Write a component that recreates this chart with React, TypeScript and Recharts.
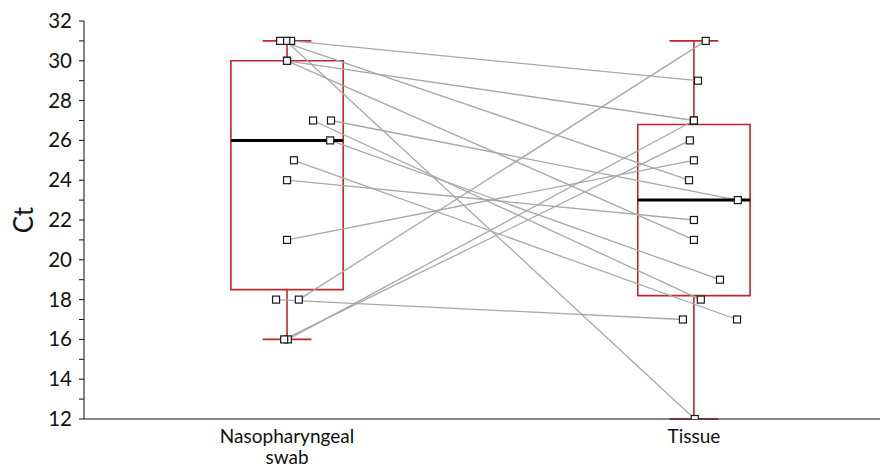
import React from "react";
import {
  ComposedChart,
  XAxis,
  YAxis,
  Line,
  Scatter,
  ReferenceArea,
  ReferenceLine,
  Label,
} from "recharts";

// ---- data ----
const categoryPositions = [1, 2];
const categoryLines = [["Nasopharyngeal", "swab"], ["Tissue"]];

// paired Ct values (one entry per sample)
const swabCt = [31, 31, 31, 30, 30, 27, 27, 26, 25, 24, 21, 18, 18, 16, 16];
const tissueCt = [29, 12, 24, 27, 21, 23, 18, 19, 17, 22, 25, 31, 17, 27, 26];
// horizontal jitter of each point (category units)
const swabJitter = [0.01, -0.002, -0.017, 0, 0, 0.108, 0.064, 0.106, 0.017, 0, 0, 0.029, -0.027, 0.002, -0.007];
const tissueJitter = [0.01, 0.002, -0.012, 0, 0, 0.108, 0.017, 0.064, 0.106, 0, 0, 0.029, -0.027, 0, -0.01];

// box plot statistics: [min, q1, median, q3, max]
const swabBox = [16, 18.5, 26, 30, 31];
const tissueBox = [12, 18.2, 23, 26.8, 31];

const yTicks = [12, 13, 14, 15, 16, 17, 18, 19, 20, 21, 22, 23, 24, 25, 26, 27, 28, 29, 30, 31, 32];

// ---- styles ----
const BOX_RED = "#C0272D";
const LINE_GREY = "#A8A8A8";
const FONT = "Lato, 'Open Sans', sans-serif";
const BOX_HALF = 0.138;
const CAP_HALF = 0.06;

const pairs = swabCt.map((v, i) => [
  { x: categoryPositions[0] + swabJitter[i], y: v },
  { x: categoryPositions[1] + tissueJitter[i], y: tissueCt[i] },
]);
const points = [
  ...swabCt.map((v, i) => ({ x: categoryPositions[0] + swabJitter[i], y: v })),
  ...tissueCt.map((v, i) => ({ x: categoryPositions[1] + tissueJitter[i], y: v })),
];
const boxes = [
  { c: categoryPositions[0], s: swabBox },
  { c: categoryPositions[1], s: tissueBox },
];

const Square = (props: any) => {
  const { cx, cy } = props;
  if (cx == null || cy == null) return null;
  return (
    <rect x={cx - 3.5} y={cy - 3.5} width={7} height={7} fill="#fff" stroke="#1a1a1a" strokeWidth={1.2} />
  );
};

const XTick = (props: any) => {
  const { x, y, payload } = props;
  const idx = categoryPositions.indexOf(payload.value);
  const lines = categoryLines[idx] || [];
  return (
    <text x={x} y={y} textAnchor="middle" fill="#111" fontSize={19} fontFamily={FONT}>
      {lines.map((l, i) => (
        <tspan key={i} x={x} dy={i === 0 ? 16 : 21}>
          {l}
        </tspan>
      ))}
    </text>
  );
};

const YTick = (props: any) => {
  const { x, y, payload } = props;
  if (payload.value % 2 !== 0) return null;
  return (
    <text x={x} y={y} dy={7} textAnchor="end" fill="#111" fontSize={20.5} fontFamily={FONT}>
      {payload.value}
    </text>
  );
};

export default function App() {
  return (
    <ComposedChart
      width={880}
      height={459}
      margin={{ top: 13, right: 0, bottom: 0, left: 0 }}
      style={{ fontFamily: FONT }}
    >
      <XAxis
        type="number"
        dataKey="x"
        domain={[0.501, 2.477]}
        allowDataOverflow
        ticks={categoryPositions}
        tick={<XTick />}
        tickLine={false}
        axisLine={{ stroke: "#111", strokeWidth: 1 }}
        height={48}
        interval={0}
      />
      <YAxis
        type="number"
        dataKey="y"
        domain={[12, 32]}
        allowDataOverflow
        ticks={yTicks}
        interval={0}
        tick={<YTick />}
        tickSize={5}
        tickMargin={7}
        tickLine={{ stroke: "#111" }}
        axisLine={{ stroke: "#111", strokeWidth: 1 }}
        width={76}
      >
        <Label
          value="Ct"
          angle={-90}
          position="insideLeft"
          offset={16}
          style={{ fontSize: 26, fill: "#111", fontFamily: FONT, textAnchor: "middle" }}
        />
      </YAxis>

      {boxes.map((b, i) => (
        <ReferenceArea
          key={"box" + i}
          x1={b.c - BOX_HALF}
          x2={b.c + BOX_HALF}
          y1={b.s[1]}
          y2={b.s[3]}
          fill="#fff"
          fillOpacity={0}
          stroke={BOX_RED}
          strokeWidth={1.6}
          ifOverflow="visible"
        />
      ))}
      {boxes.map((b, i) => (
        <ReferenceLine
          key={"wu" + i}
          segment={[{ x: b.c, y: b.s[3] }, { x: b.c, y: b.s[4] }]}
          stroke={BOX_RED}
          strokeWidth={1.6}
          ifOverflow="visible"
        />
      ))}
      {boxes.map((b, i) => (
        <ReferenceLine
          key={"wl" + i}
          segment={[{ x: b.c, y: b.s[1] }, { x: b.c, y: b.s[0] }]}
          stroke={BOX_RED}
          strokeWidth={1.6}
          ifOverflow="visible"
        />
      ))}
      {boxes.map((b, i) => (
        <ReferenceLine
          key={"cu" + i}
          segment={[{ x: b.c - CAP_HALF, y: b.s[4] }, { x: b.c + CAP_HALF, y: b.s[4] }]}
          stroke={BOX_RED}
          strokeWidth={1.6}
          ifOverflow="visible"
        />
      ))}
      {boxes.map((b, i) => (
        <ReferenceLine
          key={"cl" + i}
          segment={[{ x: b.c - CAP_HALF, y: b.s[0] }, { x: b.c + CAP_HALF, y: b.s[0] }]}
          stroke={BOX_RED}
          strokeWidth={1.6}
          ifOverflow="visible"
        />
      ))}

      {pairs.map((p, i) => (
        <Line
          key={"pair" + i}
          data={p}
          dataKey="y"
          stroke={LINE_GREY}
          strokeWidth={1.3}
          dot={false}
          activeDot={false}
          isAnimationActive={false}
          legendType="none"
        />
      ))}

      {boxes.map((b, i) => (
        <ReferenceLine
          key={"med" + i}
          segment={[{ x: b.c - BOX_HALF, y: b.s[2] }, { x: b.c + BOX_HALF, y: b.s[2] }]}
          stroke="#000"
          strokeWidth={3}
          ifOverflow="visible"
        />
      ))}

      <Scatter data={points} dataKey="y" shape={<Square />} isAnimationActive={false} />
    </ComposedChart>
  );
}
